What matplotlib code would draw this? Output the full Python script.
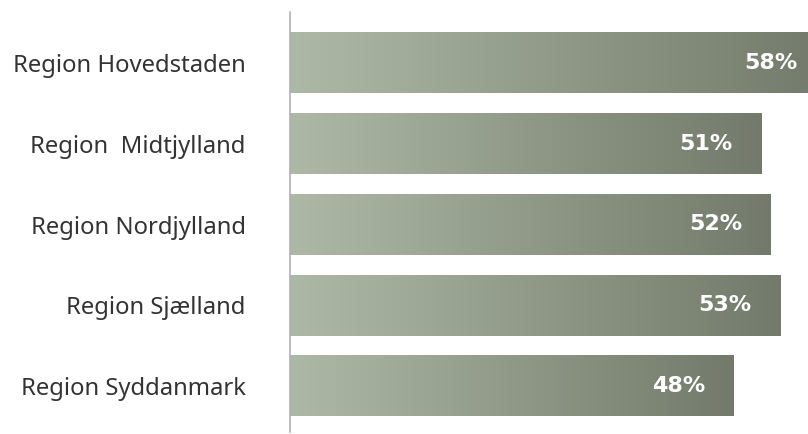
"""
Regional share, horizontal gradient bars
"""
import matplotlib.pyplot as plt
import numpy as np
from matplotlib.colors import LinearSegmentedColormap

#
REGIONS = ["Region Hovedstaden", "Region  Midtjylland", "Region Nordjylland",
           "Region Sjælland", "Region Syddanmark"]
SHARES = [58, 51, 52, 53, 48]
LABELS = ["58%", "51%", "52%", "53%", "48%"]

LIGHT = "#adb9a6"
DARK = "#737a6b"
AXIS_COLOR = "#b0b0b0"
TEXT_COLOR = "#333333"
BAR_HEIGHT = 0.755


def main() -> None:
    fig = plt.figure(figsize=(8.08, 4.34), dpi=100)
    ax = fig.add_axes([290 / 808, 2 / 434, 1 - 290 / 808, 420 / 434])
    cmap = LinearSegmentedColormap.from_list("sage", [LIGHT, DARK])
    grad = np.linspace(0, 1, 256).reshape(1, -1)

    for i, (val, lab) in enumerate(zip(SHARES, LABELS)):
        ax.imshow(grad, cmap=cmap, aspect="auto", interpolation="bilinear",
                  extent=(0, val, i + BAR_HEIGHT / 2, i - BAR_HEIGHT / 2),
                  zorder=2)
        ax.text(val - 6, i, lab, ha="center", va="center", color="white",
                fontsize=16, fontweight="bold", family="DejaVu Sans", zorder=3)

    ax.set_xlim(0, 56)
    ax.set_ylim(4 + 46 / 80.75, -51 / 80.75)
    ax.set_yticks(range(len(REGIONS)))
    ax.set_yticklabels(REGIONS, fontsize=17.2, color=TEXT_COLOR, family="Noto Sans")
    ax.tick_params(axis="y", length=0, pad=32)
    ax.set_xticks([])
    for side in ("top", "right", "bottom"):
        ax.spines[side].set_visible(False)
    ax.spines["left"].set_color(AXIS_COLOR)
    ax.spines["left"].set_linewidth(1.2)
    ax.set_facecolor("none")
    fig.savefig("out.png", dpi=100)


if __name__ == "__main__":
    main()
